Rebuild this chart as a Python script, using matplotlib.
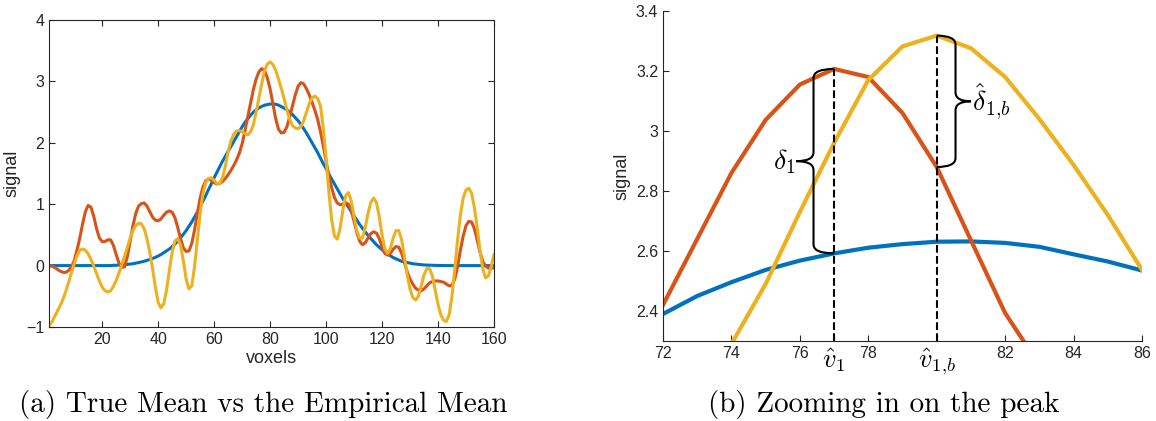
import numpy as np
import matplotlib.pyplot as plt
from matplotlib.path import Path
from matplotlib.patches import PathPatch

plt.rcParams['font.family'] = ['Liberation Sans', 'DejaVu Sans']
plt.rcParams['mathtext.fontset'] = 'cm'

voxels = np.arange(1, 161)

# true mean (blue)
true_mean = [
    0, 0, 0, 0, 0, 0, 0, 0, 0, 0,
    0, 0, 0, 0, 0, 0, 0, 0, 0, 0,
    0, 0, 0, 0.005, 0.005, 0.01, 0.01, 0.015, 0.02, 0.025,
    0.03, 0.04, 0.05, 0.06, 0.07, 0.085, 0.10, 0.115, 0.135, 0.155,
    0.18, 0.21, 0.24, 0.27, 0.31, 0.35, 0.40, 0.45, 0.51, 0.57,
    0.64, 0.71, 0.79, 0.87, 0.96, 1.05, 1.14, 1.24, 1.33, 1.43,
    1.52, 1.61, 1.70, 1.78, 1.86, 1.94, 2.02, 2.10, 2.18, 2.26,
    2.33, 2.39, 2.45, 2.496, 2.537, 2.568, 2.592, 2.611, 2.623, 2.631,
    2.632, 2.627, 2.614, 2.589, 2.565, 2.535, 2.50, 2.46, 2.41, 2.36,
    2.30, 2.23, 2.16, 2.08, 2.00, 1.92, 1.84, 1.75, 1.66, 1.58,
    1.49, 1.41, 1.33, 1.25, 1.17, 1.09, 1.02, 0.95, 0.88, 0.81,
    0.74, 0.67, 0.61, 0.55, 0.49, 0.44, 0.39, 0.34, 0.30, 0.26,
    0.22, 0.19, 0.16, 0.13, 0.11, 0.09, 0.07, 0.06, 0.05, 0.04,
    0.03, 0.025, 0.02, 0.015, 0.01, 0.008, 0.005, 0.004, 0.003, 0.002,
    0, 0, 0, 0, 0, 0, 0, 0, 0, 0,
    0, 0, 0, 0, 0, 0, 0, 0, 0, 0,
]

# empirical mean (orange)
emp_mean = [
    0.00, -0.01, -0.03, -0.06, -0.09, -0.11, -0.11, -0.08, -0.02, 0.08,
    0.25, 0.45, 0.68, 0.88, 0.98, 0.95, 0.80, 0.60, 0.45, 0.39,
    0.39, 0.42, 0.42, 0.33, 0.18, 0.04, -0.03, -0.02, 0.15, 0.40,
    0.65, 0.85, 0.97, 1.01, 1.02, 0.97, 0.88, 0.79, 0.74, 0.73,
    0.76, 0.82, 0.87, 0.89, 0.87, 0.78, 0.62, 0.44, 0.29, 0.23,
    0.24, 0.36, 0.58, 0.85, 1.10, 1.28, 1.38, 1.41, 1.39, 1.35,
    1.33, 1.34, 1.37, 1.42, 1.48, 1.55, 1.63, 1.72, 1.83, 1.98,
    2.19, 2.42, 2.64, 2.86, 3.037, 3.155, 3.207, 3.18, 3.06, 2.88,
    2.636, 2.393, 2.22, 2.16, 2.17, 2.26, 2.42, 2.60, 2.78, 2.92,
    2.98, 2.96, 2.88, 2.78, 2.66, 2.53, 2.38, 2.18, 1.95, 1.70,
    1.47, 1.27, 1.11, 1.02, 0.99, 1.00, 1.02, 1.00, 0.90, 0.72,
    0.54, 0.40, 0.34, 0.37, 0.45, 0.52, 0.55, 0.53, 0.44, 0.31,
    0.20, 0.17, 0.20, 0.27, 0.31, 0.30, 0.20, 0.05, -0.10, -0.22,
    -0.30, -0.37, -0.40, -0.41, -0.38, -0.33, -0.28, -0.26, -0.25, -0.25,
    -0.26, -0.27, -0.30, -0.33, -0.32, -0.22, -0.02, 0.25, 0.48, 0.65,
    0.72, 0.71, 0.60, 0.42, 0.22, 0.07, -0.01, -0.04, -0.04, -0.04,
]

# bootstrap mean (yellow)
boot_mean = [
    -0.98, -0.92, -0.83, -0.74, -0.65, -0.55, -0.42, -0.27, -0.12, 0.03,
    0.16, 0.25, 0.27, 0.25, 0.19, 0.10, -0.01, -0.13, -0.25, -0.35,
    -0.41, -0.43, -0.41, -0.34, -0.24, -0.12, 0.01, 0.15, 0.30, 0.45,
    0.57, 0.65, 0.69, 0.68, 0.60, 0.44, 0.22, -0.05, -0.35, -0.60,
    -0.69, -0.62, -0.40, -0.08, 0.22, 0.40, 0.44, 0.33, 0.08, -0.22,
    -0.38, -0.33, -0.02, 0.42, 0.85, 1.17, 1.35, 1.42, 1.43, 1.39,
    1.34, 1.34, 1.43, 1.62, 1.85, 2.03, 2.14, 2.19, 2.20, 2.18,
    2.15, 2.13, 2.18, 2.29, 2.49, 2.73, 2.96, 3.17, 3.282, 3.318,
    3.276, 3.18, 3.04, 2.887, 2.72, 2.537, 2.38, 2.28, 2.24, 2.23,
    2.26, 2.36, 2.50, 2.64, 2.73, 2.76, 2.72, 2.60, 2.25, 1.75,
    1.20, 0.75, 0.48, 0.43, 0.60, 0.90, 1.14, 1.19, 1.05, 0.80,
    0.57, 0.45, 0.45, 0.62, 0.85, 1.03, 1.10, 1.03, 0.80, 0.50,
    0.27, 0.20, 0.28, 0.45, 0.57, 0.57, 0.42, 0.15, -0.15, -0.38,
    -0.52, -0.56, -0.50, -0.33, -0.15, -0.05, -0.05, -0.17, -0.40, -0.63,
    -0.80, -0.89, -0.91, -0.80, -0.50, -0.05, 0.42, 0.82, 1.10, 1.23,
    1.26, 1.18, 0.95, 0.62, 0.25, -0.05, -0.20, -0.17, -0.02, 0.18,
]

v_hat = 77
v_hat_b = 80

blue = '#0072BD'
orange = '#D95319'
yellow = '#EDB120'
dark = '#262626'


def brace(ax, x0, y1, y2, hook, tip, r):
    # curly brace along x0 from y1 to y2; hooks point to x0+hook, tip to x0+tip
    ym = (y1 + y2) / 2
    verts = [(x0 + hook, y1), (x0, y1), (x0, y1 + r),
             (x0, ym - r),
             (x0, ym), (x0 + tip, ym),
             (x0, ym), (x0, ym + r),
             (x0, y2 - r),
             (x0, y2), (x0 + hook, y2)]
    codes = [Path.MOVETO, Path.CURVE3, Path.CURVE3,
             Path.LINETO,
             Path.CURVE3, Path.CURVE3,
             Path.CURVE3, Path.CURVE3,
             Path.LINETO,
             Path.CURVE3, Path.CURVE3]
    ax.add_patch(PathPatch(Path(verts, codes), fill=False, lw=1.5,
                           color='black', zorder=6, clip_on=False))


def style(ax):
    ax.tick_params(direction='in', length=4, width=0.8, colors=dark,
                   labelsize=11.5)
    for s in ax.spines.values():
        s.set_color(dark)
        s.set_linewidth(0.8)


fig = plt.figure(figsize=(11.56, 4.21), dpi=100)

# (a) full signal
ax1 = fig.add_axes([0.0424, 0.2233, 0.3849, 0.7292])
ax1.plot(voxels, true_mean, color=blue, lw=2.2)
ax1.plot(voxels, emp_mean, color=orange, lw=2.2)
ax1.plot(voxels, boot_mean, color=yellow, lw=2.2)
ax1.set_xlim(1, 160)
ax1.set_ylim(-1, 4)
ax1.set_xticks(np.arange(20, 161, 20))
ax1.set_yticks(np.arange(-1, 5, 1))
ax1.set_xlabel('voxels', fontsize=13, color=dark, labelpad=2)
ax1.set_ylabel('signal', fontsize=13, color=dark, labelpad=4)
style(ax1)
ax1.tick_params(top=True, right=True, labeltop=False, labelright=False)

# (b) zoom on the peak
ax2 = fig.add_axes([0.5735, 0.19, 0.4144, 0.7838])
ax2.plot(voxels, true_mean, color=blue, lw=3)
ax2.plot(voxels, emp_mean, color=orange, lw=3)
ax2.plot(voxels, boot_mean, color=yellow, lw=3)
ax2.set_xlim(72, 86)
ax2.set_ylim(2.3, 3.4)
ax2.spines['top'].set_visible(False)
ax2.spines['right'].set_visible(False)
xt = [72, 74, 76, v_hat, 78, v_hat_b, 82, 84, 86]
ax2.set_xticks(xt)
ax2.set_xticklabels(['72', '74', '76', r'$\hat{v}_1$', '78', r'$\hat{v}_{1{,}b}$',
                     '82', '84', '86'])
ax2.set_yticks([2.4, 2.6, 2.8, 3.0, 3.2, 3.4])
ax2.set_yticklabels(['2.4', '2.6', '2.8', '3', '3.2', '3.4'])
ax2.set_ylabel('signal', fontsize=13, color=dark, labelpad=4)
style(ax2)
for lab in ax2.get_xticklabels():
    if lab.get_text().startswith('$'):
        lab.set_fontsize(19)
        lab.set_color('black')

i1 = v_hat - 1
i2 = v_hat_b - 1
ax2.plot([v_hat, v_hat], [2.3, emp_mean[i1]], 'k--', lw=1.5, zorder=5)
ax2.plot([v_hat_b, v_hat_b], [2.3, boot_mean[i2]], 'k--', lw=1.5, zorder=5)

brace(ax2, v_hat - 0.6, true_mean[i1], emp_mean[i1], 0.6, -0.5, 0.03)
ax2.text(v_hat - 1.13, (true_mean[i1] + emp_mean[i1]) / 2, r'$\delta_1$',
         fontsize=20, ha='right', va='center')
brace(ax2, v_hat_b + 0.55, emp_mean[i2], boot_mean[i2], -0.55, 0.45, 0.03)
ax2.text(v_hat_b + 1.03, (emp_mean[i2] + boot_mean[i2]) / 2, r'$\hat{\delta}_{1{,}b}$',
         fontsize=20, ha='left', va='center')

fig.text(263 / 1156, 0.04, '(a) True Mean vs the Empirical Mean',
         family='cmr10', fontsize=21, ha='center', va='center')
fig.text(884 / 1156, 0.04, '(b) Zooming in on the peak',
         family='cmr10', fontsize=21, ha='center', va='center')

fig.savefig('out.png', dpi=100)
